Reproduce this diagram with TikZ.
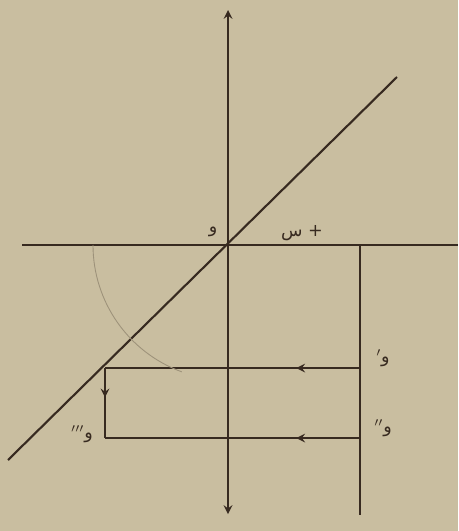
\documentclass[tikz,border=0pt]{standalone}
\usepackage{fontspec}
\newfontfamily\arabicfont[Script=Arabic]{DejaVu Sans}
\TeXXeTstate=1
\usetikzlibrary{decorations.markings}
\definecolor{paper}{RGB}{201,190,160}
\definecolor{ink}{RGB}{55,42,32}

\begin{document}
\begin{tikzpicture}[x=0.02cm, y=-0.02cm, >=stealth, line width=1.2pt,
  midarrow/.style={postaction={decorate},
    decoration={markings, mark=at position #1 with {\arrow{>}}}},
  lbl/.style={inner sep=1pt, font=\arabicfont, text=ink}]
  \fill[paper] (0,0) rectangle (458,531);
  \useasboundingbox (0,0) rectangle (458,531);

  % axes
  \coordinate (O) at (228,245);
  \coordinate (ytop) at (228,10);
  \coordinate (ybot) at (228,514);
  \coordinate (xl) at (22,245);
  \coordinate (xr) at (458,245);
  \draw[ink, <->] (ytop) -- (ybot);
  \draw[ink] (xl) -- (xr);

  % 45 degree line
  \coordinate (dl) at (8,460);
  \coordinate (dr) at (397,77);
  \draw[ink] (dl) -- (dr);

  % right vertical and the path
  \coordinate (rt) at (360,245);
  \coordinate (rb) at (360,515);
  \coordinate (A) at (360,368);
  \coordinate (B) at (360,438);
  \coordinate (C) at (105,368);
  \coordinate (D) at (105,438);
  \draw[ink] (rt) -- (rb);
  \draw[ink, midarrow=0.25] (A) -- (C);
  \draw[ink, midarrow=0.25] (B) -- (D);
  \draw[ink, midarrow=0.42] (C) -- (D);

  % faint pencil arc
  \draw[ink!30!paper, line width=0.5pt] (O) ++(180:135) arc (180:110:135);

  % labels
  \node[lbl] (lO) at (213,232) {\beginR و\endR};
  \node[lbl] (lx) at (302,233) {\beginR + س\endR};
  \node[lbl] (l1) at (383,358) {$'$\beginR و\endR};
  \node[lbl] (l2) at (383,428) {$''$\beginR و\endR};
  \node[lbl] (l3) at (82,434) {$'''$\beginR و\endR};
\end{tikzpicture}
\end{document}
